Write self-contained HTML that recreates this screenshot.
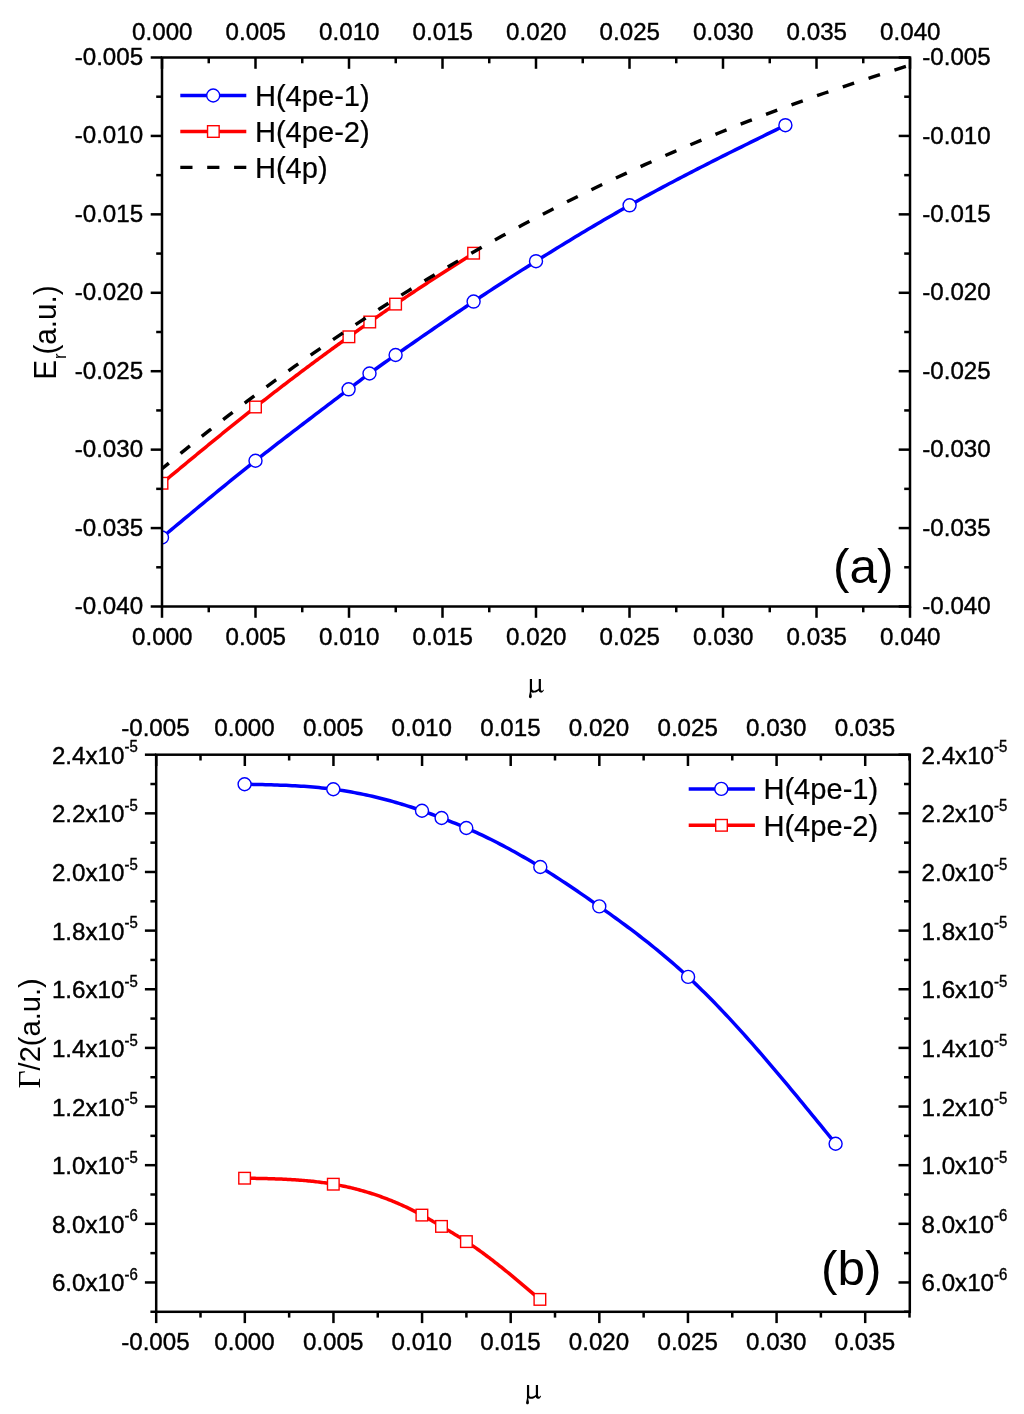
<!DOCTYPE html>
<html><head><meta charset="utf-8"><title>chart</title><style>html,body{margin:0;padding:0;background:#fff}body{width:1024px;height:1414px;overflow:hidden;font-family:"Liberation Sans",sans-serif}</style></head><body>
<svg width="1024" height="1414" viewBox="0 0 1024 1414" style="display:block;will-change:transform">
<rect width="1024" height="1414" fill="#fff"/>
<defs><clipPath id="ca"><rect x="162" y="57.5" width="748" height="549"/></clipPath><clipPath id="cb"><rect x="156.2" y="754.7" width="753.6" height="557.1"/></clipPath></defs>
<g clip-path="url(#ca)">
<path d="M162.00,537.50 L165.13,534.88 L168.27,532.26 L171.40,529.65 L174.53,527.03 L177.66,524.42 L180.80,521.80 L183.93,519.19 L187.06,516.58 L190.19,513.98 L193.33,511.37 L196.46,508.77 L199.59,506.18 L202.72,503.58 L205.86,500.99 L208.99,498.41 L212.12,495.83 L215.26,493.25 L218.39,490.68 L221.52,488.12 L224.65,485.56 L227.79,483.01 L230.92,480.46 L234.05,477.92 L237.18,475.39 L240.32,472.87 L243.45,470.35 L246.58,467.84 L249.71,465.34 L252.85,462.85 L255.98,460.37 L259.11,457.90 L262.25,455.43 L265.38,452.98 L268.51,450.53 L271.64,448.09 L274.78,445.66 L277.91,443.23 L281.04,440.81 L284.17,438.40 L287.31,435.99 L290.44,433.58 L293.57,431.18 L296.70,428.79 L299.84,426.40 L302.97,424.01 L306.10,421.62 L309.24,419.24 L312.37,416.86 L315.50,414.48 L318.63,412.10 L321.77,409.72 L324.90,407.34 L328.03,404.96 L331.16,402.58 L334.30,400.20 L337.43,397.82 L340.56,395.43 L343.69,393.04 L346.83,390.65 L349.96,388.26 L353.09,385.87 L356.23,383.47 L359.36,381.09 L362.49,378.72 L365.62,376.37 L368.76,374.05 L371.89,371.75 L375.02,369.48 L378.15,367.24 L381.29,365.01 L384.42,362.80 L387.55,360.61 L390.68,358.42 L393.82,356.24 L396.95,354.06 L400.08,351.88 L403.22,349.71 L406.35,347.53 L409.48,345.36 L412.61,343.19 L415.75,341.01 L418.88,338.85 L422.01,336.68 L425.14,334.51 L428.28,332.35 L431.41,330.19 L434.54,328.04 L437.67,325.89 L440.81,323.74 L443.94,321.60 L447.07,319.46 L450.21,317.32 L453.34,315.19 L456.47,313.07 L459.60,310.95 L462.74,308.83 L465.87,306.73 L469.00,304.62 L472.13,302.53 L475.27,300.44 L478.40,298.36 L481.53,296.28 L484.66,294.21 L487.80,292.15 L490.93,290.10 L494.06,288.05 L497.19,286.01 L500.33,283.97 L503.46,281.94 L506.59,279.92 L509.73,277.90 L512.86,275.89 L515.99,273.88 L519.12,271.88 L522.26,269.89 L525.39,267.90 L528.52,265.91 L531.65,263.93 L534.79,261.96 L537.92,260.00 L541.05,258.03 L544.18,256.08 L547.32,254.13 L550.45,252.18 L553.58,250.24 L556.72,248.31 L559.85,246.38 L562.98,244.46 L566.11,242.55 L569.25,240.64 L572.38,238.74 L575.51,236.84 L578.64,234.96 L581.78,233.07 L584.91,231.20 L588.04,229.33 L591.17,227.47 L594.31,225.62 L597.44,223.78 L600.57,221.94 L603.71,220.11 L606.84,218.29 L609.97,216.48 L613.10,214.67 L616.24,212.87 L619.37,211.08 L622.50,209.30 L625.63,207.53 L628.77,205.77 L631.90,204.01 L635.03,202.27 L638.16,200.53 L641.30,198.80 L644.43,197.08 L647.56,195.37 L650.70,193.66 L653.83,191.96 L656.96,190.27 L660.09,188.59 L663.23,186.92 L666.36,185.25 L669.49,183.58 L672.62,181.93 L675.76,180.28 L678.89,178.64 L682.02,177.00 L685.15,175.37 L688.29,173.74 L691.42,172.12 L694.55,170.51 L697.69,168.90 L700.82,167.29 L703.95,165.69 L707.08,164.10 L710.22,162.51 L713.35,160.92 L716.48,159.34 L719.61,157.76 L722.75,156.19 L725.88,154.62 L729.01,153.05 L732.14,151.48 L735.28,149.92 L738.41,148.36 L741.54,146.81 L744.68,145.25 L747.81,143.70 L750.94,142.15 L754.07,140.60 L757.21,139.06 L760.34,137.52 L763.47,135.97 L766.60,134.43 L769.74,132.89 L772.87,131.35 L776.00,129.81 L779.13,128.28 L782.27,126.74 L785.40,125.20" fill="none" stroke="#0000ff" stroke-width="3.5"/>
<circle cx="162.00" cy="537.50" r="6.5" fill="#fff" stroke="#0000ff" stroke-width="1.4"/>
<circle cx="255.50" cy="460.75" r="6.5" fill="#fff" stroke="#0000ff" stroke-width="1.4"/>
<circle cx="348.60" cy="389.30" r="6.5" fill="#fff" stroke="#0000ff" stroke-width="1.4"/>
<circle cx="369.50" cy="373.50" r="6.5" fill="#fff" stroke="#0000ff" stroke-width="1.4"/>
<circle cx="395.60" cy="355.00" r="6.5" fill="#fff" stroke="#0000ff" stroke-width="1.4"/>
<circle cx="473.60" cy="301.55" r="6.5" fill="#fff" stroke="#0000ff" stroke-width="1.4"/>
<circle cx="536.00" cy="261.20" r="6.5" fill="#fff" stroke="#0000ff" stroke-width="1.4"/>
<circle cx="629.60" cy="205.30" r="6.5" fill="#fff" stroke="#0000ff" stroke-width="1.4"/>
<circle cx="785.40" cy="125.20" r="6.5" fill="#fff" stroke="#0000ff" stroke-width="1.4"/>
<path d="M162.00,483.25 L163.57,481.95 L165.13,480.65 L166.70,479.36 L168.26,478.06 L169.83,476.76 L171.39,475.46 L172.96,474.17 L174.53,472.87 L176.09,471.57 L177.66,470.28 L179.22,468.98 L180.79,467.69 L182.36,466.39 L183.92,465.10 L185.49,463.80 L187.05,462.51 L188.62,461.22 L190.18,459.92 L191.75,458.63 L193.32,457.34 L194.88,456.05 L196.45,454.76 L198.01,453.47 L199.58,452.18 L201.15,450.90 L202.71,449.61 L204.28,448.32 L205.84,447.04 L207.41,445.76 L208.97,444.47 L210.54,443.19 L212.11,441.91 L213.67,440.63 L215.24,439.35 L216.80,438.08 L218.37,436.80 L219.94,435.53 L221.50,434.25 L223.07,432.98 L224.63,431.71 L226.20,430.44 L227.76,429.18 L229.33,427.91 L230.90,426.65 L232.46,425.38 L234.03,424.12 L235.59,422.86 L237.16,421.60 L238.73,420.35 L240.29,419.09 L241.86,417.84 L243.42,416.59 L244.99,415.34 L246.55,414.09 L248.12,412.84 L249.69,411.60 L251.25,410.36 L252.82,409.12 L254.38,407.88 L255.95,406.65 L257.52,405.41 L259.08,404.18 L260.65,402.95 L262.21,401.72 L263.78,400.50 L265.34,399.27 L266.91,398.05 L268.48,396.83 L270.04,395.62 L271.61,394.40 L273.17,393.19 L274.74,391.98 L276.31,390.77 L277.87,389.56 L279.44,388.36 L281.00,387.15 L282.57,385.95 L284.13,384.75 L285.70,383.56 L287.27,382.36 L288.83,381.17 L290.40,379.98 L291.96,378.79 L293.53,377.60 L295.10,376.41 L296.66,375.23 L298.23,374.05 L299.79,372.87 L301.36,371.69 L302.92,370.52 L304.49,369.34 L306.06,368.17 L307.62,367.00 L309.19,365.83 L310.75,364.66 L312.32,363.50 L313.89,362.34 L315.45,361.18 L317.02,360.02 L318.58,358.86 L320.15,357.70 L321.71,356.55 L323.28,355.40 L324.85,354.25 L326.41,353.10 L327.98,351.95 L329.54,350.81 L331.11,349.66 L332.68,348.52 L334.24,347.38 L335.81,346.25 L337.37,345.11 L338.94,343.98 L340.50,342.84 L342.07,341.71 L343.64,340.58 L345.20,339.46 L346.77,338.33 L348.33,337.21 L349.90,336.08 L351.47,334.96 L353.03,333.84 L354.60,332.73 L356.16,331.61 L357.73,330.50 L359.29,329.38 L360.86,328.27 L362.43,327.17 L363.99,326.06 L365.56,324.95 L367.12,323.85 L368.69,322.75 L370.26,321.64 L371.82,320.55 L373.39,319.45 L374.95,318.35 L376.52,317.26 L378.08,316.17 L379.65,315.08 L381.22,313.99 L382.78,312.90 L384.35,311.82 L385.91,310.74 L387.48,309.66 L389.05,308.58 L390.61,307.51 L392.18,306.44 L393.74,305.37 L395.31,304.30 L396.87,303.23 L398.44,302.17 L400.01,301.11 L401.57,300.06 L403.14,299.00 L404.70,297.95 L406.27,296.90 L407.84,295.85 L409.40,294.81 L410.97,293.76 L412.53,292.72 L414.10,291.68 L415.66,290.65 L417.23,289.61 L418.80,288.58 L420.36,287.55 L421.93,286.52 L423.49,285.49 L425.06,284.46 L426.63,283.44 L428.19,282.41 L429.76,281.39 L431.32,280.37 L432.89,279.36 L434.45,278.34 L436.02,277.32 L437.59,276.31 L439.15,275.29 L440.72,274.28 L442.28,273.27 L443.85,272.26 L445.42,271.25 L446.98,270.24 L448.55,269.24 L450.11,268.23 L451.68,267.22 L453.24,266.22 L454.81,265.22 L456.38,264.21 L457.94,263.21 L459.51,262.21 L461.07,261.20 L462.64,260.20 L464.21,259.20 L465.77,258.20 L467.34,257.20 L468.90,256.20 L470.47,255.20 L472.03,254.20 L473.60,253.20" fill="none" stroke="#ff0000" stroke-width="3.5"/>
<rect x="156.20" y="477.45" width="11.6" height="11.6" fill="#fff" stroke="#ff0000" stroke-width="1.4"/>
<rect x="249.70" y="401.20" width="11.6" height="11.6" fill="#fff" stroke="#ff0000" stroke-width="1.4"/>
<rect x="343.10" y="331.00" width="11.6" height="11.6" fill="#fff" stroke="#ff0000" stroke-width="1.4"/>
<rect x="363.95" y="316.20" width="11.6" height="11.6" fill="#fff" stroke="#ff0000" stroke-width="1.4"/>
<rect x="389.80" y="298.30" width="11.6" height="11.6" fill="#fff" stroke="#ff0000" stroke-width="1.4"/>
<rect x="467.80" y="247.40" width="11.6" height="11.6" fill="#fff" stroke="#ff0000" stroke-width="1.4"/>
<path d="M162.00,468.77 L171.47,460.93 L180.94,453.18 L190.41,445.51 L199.87,437.93 L209.34,430.42 L218.81,423.00 L228.28,415.66 L237.75,408.40 L247.22,401.22 L256.68,394.12 L266.15,387.09 L275.62,380.15 L285.09,373.28 L294.56,366.49 L304.03,359.78 L313.49,353.14 L322.96,346.58 L332.43,340.09 L341.90,333.68 L351.37,327.34 L360.84,321.08 L370.30,314.89 L379.77,308.77 L389.24,302.72 L398.71,296.75 L408.18,290.84 L417.65,285.01 L427.11,279.24 L436.58,273.55 L446.05,267.92 L455.52,262.36 L464.99,256.87 L474.46,251.45 L483.92,246.09 L493.39,240.80 L502.86,235.57 L512.33,230.41 L521.80,225.31 L531.27,220.28 L540.73,215.31 L550.20,210.40 L559.67,205.56 L569.14,200.78 L578.61,196.05 L588.08,191.39 L597.54,186.79 L607.01,182.25 L616.48,177.77 L625.95,173.35 L635.42,168.98 L644.89,164.67 L654.35,160.42 L663.82,156.23 L673.29,152.09 L682.76,148.00 L692.23,143.97 L701.70,140.00 L711.16,136.08 L720.63,132.21 L730.10,128.39 L739.57,124.63 L749.04,120.92 L758.51,117.26 L767.97,113.65 L777.44,110.09 L786.91,106.58 L796.38,103.12 L805.85,99.70 L815.32,96.34 L824.78,93.02 L834.25,89.75 L843.72,86.53 L853.19,83.35 L862.66,80.21 L872.13,77.12 L881.59,74.08 L891.06,71.08 L900.53,68.12 L910.00,65.20" fill="none" stroke="#000" stroke-width="3.4" stroke-dasharray="12.0 15.18" stroke-dashoffset="3.1"/>
</g>
<line x1="162.00" y1="57.5" x2="162.00" y2="68.8" stroke="#000" stroke-width="2.5"/>
<line x1="162.00" y1="606.5" x2="162.00" y2="617.8" stroke="#000" stroke-width="2.5"/>
<line x1="255.50" y1="57.5" x2="255.50" y2="68.8" stroke="#000" stroke-width="2.5"/>
<line x1="255.50" y1="606.5" x2="255.50" y2="617.8" stroke="#000" stroke-width="2.5"/>
<line x1="349.00" y1="57.5" x2="349.00" y2="68.8" stroke="#000" stroke-width="2.5"/>
<line x1="349.00" y1="606.5" x2="349.00" y2="617.8" stroke="#000" stroke-width="2.5"/>
<line x1="442.50" y1="57.5" x2="442.50" y2="68.8" stroke="#000" stroke-width="2.5"/>
<line x1="442.50" y1="606.5" x2="442.50" y2="617.8" stroke="#000" stroke-width="2.5"/>
<line x1="536.00" y1="57.5" x2="536.00" y2="68.8" stroke="#000" stroke-width="2.5"/>
<line x1="536.00" y1="606.5" x2="536.00" y2="617.8" stroke="#000" stroke-width="2.5"/>
<line x1="629.50" y1="57.5" x2="629.50" y2="68.8" stroke="#000" stroke-width="2.5"/>
<line x1="629.50" y1="606.5" x2="629.50" y2="617.8" stroke="#000" stroke-width="2.5"/>
<line x1="723.00" y1="57.5" x2="723.00" y2="68.8" stroke="#000" stroke-width="2.5"/>
<line x1="723.00" y1="606.5" x2="723.00" y2="617.8" stroke="#000" stroke-width="2.5"/>
<line x1="816.50" y1="57.5" x2="816.50" y2="68.8" stroke="#000" stroke-width="2.5"/>
<line x1="816.50" y1="606.5" x2="816.50" y2="617.8" stroke="#000" stroke-width="2.5"/>
<line x1="910.00" y1="57.5" x2="910.00" y2="68.8" stroke="#000" stroke-width="2.5"/>
<line x1="910.00" y1="606.5" x2="910.00" y2="617.8" stroke="#000" stroke-width="2.5"/>
<line x1="208.75" y1="57.5" x2="208.75" y2="63.3" stroke="#000" stroke-width="2.5"/>
<line x1="208.75" y1="606.5" x2="208.75" y2="612.3" stroke="#000" stroke-width="2.5"/>
<line x1="302.25" y1="57.5" x2="302.25" y2="63.3" stroke="#000" stroke-width="2.5"/>
<line x1="302.25" y1="606.5" x2="302.25" y2="612.3" stroke="#000" stroke-width="2.5"/>
<line x1="395.75" y1="57.5" x2="395.75" y2="63.3" stroke="#000" stroke-width="2.5"/>
<line x1="395.75" y1="606.5" x2="395.75" y2="612.3" stroke="#000" stroke-width="2.5"/>
<line x1="489.25" y1="57.5" x2="489.25" y2="63.3" stroke="#000" stroke-width="2.5"/>
<line x1="489.25" y1="606.5" x2="489.25" y2="612.3" stroke="#000" stroke-width="2.5"/>
<line x1="582.75" y1="57.5" x2="582.75" y2="63.3" stroke="#000" stroke-width="2.5"/>
<line x1="582.75" y1="606.5" x2="582.75" y2="612.3" stroke="#000" stroke-width="2.5"/>
<line x1="676.25" y1="57.5" x2="676.25" y2="63.3" stroke="#000" stroke-width="2.5"/>
<line x1="676.25" y1="606.5" x2="676.25" y2="612.3" stroke="#000" stroke-width="2.5"/>
<line x1="769.75" y1="57.5" x2="769.75" y2="63.3" stroke="#000" stroke-width="2.5"/>
<line x1="769.75" y1="606.5" x2="769.75" y2="612.3" stroke="#000" stroke-width="2.5"/>
<line x1="863.25" y1="57.5" x2="863.25" y2="63.3" stroke="#000" stroke-width="2.5"/>
<line x1="863.25" y1="606.5" x2="863.25" y2="612.3" stroke="#000" stroke-width="2.5"/>
<line x1="150.7" y1="57.50" x2="162.0" y2="57.50" stroke="#000" stroke-width="2.5"/>
<line x1="898.7" y1="57.50" x2="910.0" y2="57.50" stroke="#000" stroke-width="2.5"/>
<line x1="150.7" y1="135.93" x2="162.0" y2="135.93" stroke="#000" stroke-width="2.5"/>
<line x1="898.7" y1="135.93" x2="910.0" y2="135.93" stroke="#000" stroke-width="2.5"/>
<line x1="150.7" y1="214.36" x2="162.0" y2="214.36" stroke="#000" stroke-width="2.5"/>
<line x1="898.7" y1="214.36" x2="910.0" y2="214.36" stroke="#000" stroke-width="2.5"/>
<line x1="150.7" y1="292.79" x2="162.0" y2="292.79" stroke="#000" stroke-width="2.5"/>
<line x1="898.7" y1="292.79" x2="910.0" y2="292.79" stroke="#000" stroke-width="2.5"/>
<line x1="150.7" y1="371.21" x2="162.0" y2="371.21" stroke="#000" stroke-width="2.5"/>
<line x1="898.7" y1="371.21" x2="910.0" y2="371.21" stroke="#000" stroke-width="2.5"/>
<line x1="150.7" y1="449.64" x2="162.0" y2="449.64" stroke="#000" stroke-width="2.5"/>
<line x1="898.7" y1="449.64" x2="910.0" y2="449.64" stroke="#000" stroke-width="2.5"/>
<line x1="150.7" y1="528.07" x2="162.0" y2="528.07" stroke="#000" stroke-width="2.5"/>
<line x1="898.7" y1="528.07" x2="910.0" y2="528.07" stroke="#000" stroke-width="2.5"/>
<line x1="150.7" y1="606.50" x2="162.0" y2="606.50" stroke="#000" stroke-width="2.5"/>
<line x1="898.7" y1="606.50" x2="910.0" y2="606.50" stroke="#000" stroke-width="2.5"/>
<line x1="156.2" y1="96.71" x2="162.0" y2="96.71" stroke="#000" stroke-width="2.5"/>
<line x1="904.2" y1="96.71" x2="910.0" y2="96.71" stroke="#000" stroke-width="2.5"/>
<line x1="156.2" y1="175.14" x2="162.0" y2="175.14" stroke="#000" stroke-width="2.5"/>
<line x1="904.2" y1="175.14" x2="910.0" y2="175.14" stroke="#000" stroke-width="2.5"/>
<line x1="156.2" y1="253.57" x2="162.0" y2="253.57" stroke="#000" stroke-width="2.5"/>
<line x1="904.2" y1="253.57" x2="910.0" y2="253.57" stroke="#000" stroke-width="2.5"/>
<line x1="156.2" y1="332.00" x2="162.0" y2="332.00" stroke="#000" stroke-width="2.5"/>
<line x1="904.2" y1="332.00" x2="910.0" y2="332.00" stroke="#000" stroke-width="2.5"/>
<line x1="156.2" y1="410.43" x2="162.0" y2="410.43" stroke="#000" stroke-width="2.5"/>
<line x1="904.2" y1="410.43" x2="910.0" y2="410.43" stroke="#000" stroke-width="2.5"/>
<line x1="156.2" y1="488.86" x2="162.0" y2="488.86" stroke="#000" stroke-width="2.5"/>
<line x1="904.2" y1="488.86" x2="910.0" y2="488.86" stroke="#000" stroke-width="2.5"/>
<line x1="156.2" y1="567.29" x2="162.0" y2="567.29" stroke="#000" stroke-width="2.5"/>
<line x1="904.2" y1="567.29" x2="910.0" y2="567.29" stroke="#000" stroke-width="2.5"/>
<rect x="162.0" y="57.5" width="748.0" height="549.0" fill="none" stroke="#000" stroke-width="2.5"/>
<text transform="translate(162.30,40.00) scale(1.027,1)" font-family="Liberation Sans" font-size="23.5" text-anchor="middle" stroke="#000" stroke-width="0.4">0.000</text>
<text transform="translate(162.30,644.70) scale(1.027,1)" font-family="Liberation Sans" font-size="23.5" text-anchor="middle" stroke="#000" stroke-width="0.4">0.000</text>
<text transform="translate(255.80,40.00) scale(1.027,1)" font-family="Liberation Sans" font-size="23.5" text-anchor="middle" stroke="#000" stroke-width="0.4">0.005</text>
<text transform="translate(255.80,644.70) scale(1.027,1)" font-family="Liberation Sans" font-size="23.5" text-anchor="middle" stroke="#000" stroke-width="0.4">0.005</text>
<text transform="translate(349.30,40.00) scale(1.027,1)" font-family="Liberation Sans" font-size="23.5" text-anchor="middle" stroke="#000" stroke-width="0.4">0.010</text>
<text transform="translate(349.30,644.70) scale(1.027,1)" font-family="Liberation Sans" font-size="23.5" text-anchor="middle" stroke="#000" stroke-width="0.4">0.010</text>
<text transform="translate(442.80,40.00) scale(1.027,1)" font-family="Liberation Sans" font-size="23.5" text-anchor="middle" stroke="#000" stroke-width="0.4">0.015</text>
<text transform="translate(442.80,644.70) scale(1.027,1)" font-family="Liberation Sans" font-size="23.5" text-anchor="middle" stroke="#000" stroke-width="0.4">0.015</text>
<text transform="translate(536.30,40.00) scale(1.027,1)" font-family="Liberation Sans" font-size="23.5" text-anchor="middle" stroke="#000" stroke-width="0.4">0.020</text>
<text transform="translate(536.30,644.70) scale(1.027,1)" font-family="Liberation Sans" font-size="23.5" text-anchor="middle" stroke="#000" stroke-width="0.4">0.020</text>
<text transform="translate(629.80,40.00) scale(1.027,1)" font-family="Liberation Sans" font-size="23.5" text-anchor="middle" stroke="#000" stroke-width="0.4">0.025</text>
<text transform="translate(629.80,644.70) scale(1.027,1)" font-family="Liberation Sans" font-size="23.5" text-anchor="middle" stroke="#000" stroke-width="0.4">0.025</text>
<text transform="translate(723.30,40.00) scale(1.027,1)" font-family="Liberation Sans" font-size="23.5" text-anchor="middle" stroke="#000" stroke-width="0.4">0.030</text>
<text transform="translate(723.30,644.70) scale(1.027,1)" font-family="Liberation Sans" font-size="23.5" text-anchor="middle" stroke="#000" stroke-width="0.4">0.030</text>
<text transform="translate(816.80,40.00) scale(1.027,1)" font-family="Liberation Sans" font-size="23.5" text-anchor="middle" stroke="#000" stroke-width="0.4">0.035</text>
<text transform="translate(816.80,644.70) scale(1.027,1)" font-family="Liberation Sans" font-size="23.5" text-anchor="middle" stroke="#000" stroke-width="0.4">0.035</text>
<text transform="translate(910.30,40.00) scale(1.027,1)" font-family="Liberation Sans" font-size="23.5" text-anchor="middle" stroke="#000" stroke-width="0.4">0.040</text>
<text transform="translate(910.30,644.70) scale(1.027,1)" font-family="Liberation Sans" font-size="23.5" text-anchor="middle" stroke="#000" stroke-width="0.4">0.040</text>
<text transform="translate(143.10,65.00) scale(1.027,1)" font-family="Liberation Sans" font-size="23.5" text-anchor="end" stroke="#000" stroke-width="0.4">-0.005</text>
<text transform="translate(922.30,65.10) scale(1.027,1)" font-family="Liberation Sans" font-size="23.5" text-anchor="start" stroke="#000" stroke-width="0.4">-0.005</text>
<text transform="translate(143.10,143.43) scale(1.027,1)" font-family="Liberation Sans" font-size="23.5" text-anchor="end" stroke="#000" stroke-width="0.4">-0.010</text>
<text transform="translate(922.30,143.53) scale(1.027,1)" font-family="Liberation Sans" font-size="23.5" text-anchor="start" stroke="#000" stroke-width="0.4">-0.010</text>
<text transform="translate(143.10,221.86) scale(1.027,1)" font-family="Liberation Sans" font-size="23.5" text-anchor="end" stroke="#000" stroke-width="0.4">-0.015</text>
<text transform="translate(922.30,221.96) scale(1.027,1)" font-family="Liberation Sans" font-size="23.5" text-anchor="start" stroke="#000" stroke-width="0.4">-0.015</text>
<text transform="translate(143.10,300.29) scale(1.027,1)" font-family="Liberation Sans" font-size="23.5" text-anchor="end" stroke="#000" stroke-width="0.4">-0.020</text>
<text transform="translate(922.30,300.39) scale(1.027,1)" font-family="Liberation Sans" font-size="23.5" text-anchor="start" stroke="#000" stroke-width="0.4">-0.020</text>
<text transform="translate(143.10,378.71) scale(1.027,1)" font-family="Liberation Sans" font-size="23.5" text-anchor="end" stroke="#000" stroke-width="0.4">-0.025</text>
<text transform="translate(922.30,378.81) scale(1.027,1)" font-family="Liberation Sans" font-size="23.5" text-anchor="start" stroke="#000" stroke-width="0.4">-0.025</text>
<text transform="translate(143.10,457.14) scale(1.027,1)" font-family="Liberation Sans" font-size="23.5" text-anchor="end" stroke="#000" stroke-width="0.4">-0.030</text>
<text transform="translate(922.30,457.24) scale(1.027,1)" font-family="Liberation Sans" font-size="23.5" text-anchor="start" stroke="#000" stroke-width="0.4">-0.030</text>
<text transform="translate(143.10,535.57) scale(1.027,1)" font-family="Liberation Sans" font-size="23.5" text-anchor="end" stroke="#000" stroke-width="0.4">-0.035</text>
<text transform="translate(922.30,535.67) scale(1.027,1)" font-family="Liberation Sans" font-size="23.5" text-anchor="start" stroke="#000" stroke-width="0.4">-0.035</text>
<text transform="translate(143.10,614.00) scale(1.027,1)" font-family="Liberation Sans" font-size="23.5" text-anchor="end" stroke="#000" stroke-width="0.4">-0.040</text>
<text transform="translate(922.30,614.10) scale(1.027,1)" font-family="Liberation Sans" font-size="23.5" text-anchor="start" stroke="#000" stroke-width="0.4">-0.040</text>
<line x1="180.3" y1="95.5" x2="246.3" y2="95.5" stroke="#0000ff" stroke-width="3.5"/>
<line x1="180.3" y1="131.5" x2="246.3" y2="131.5" stroke="#ff0000" stroke-width="3.5"/>
<circle cx="213.20" cy="95.50" r="6.5" fill="#fff" stroke="#0000ff" stroke-width="1.4"/>
<rect x="207.55" y="125.70" width="11.6" height="11.6" fill="#fff" stroke="#ff0000" stroke-width="1.4"/>
<line x1="180.3" y1="167.4" x2="246.3" y2="167.4" stroke="#000" stroke-width="3.4" stroke-dasharray="12.2 14.7"/>
<text transform="translate(254.90,105.60) scale(0.982,1)" font-family="Liberation Sans" font-size="29.66" text-anchor="start" stroke="#000" stroke-width="0.2">H(4pe-1)</text>
<text transform="translate(254.90,141.50) scale(0.982,1)" font-family="Liberation Sans" font-size="29.66" text-anchor="start" stroke="#000" stroke-width="0.2">H(4pe-2)</text>
<text transform="translate(254.90,177.60) scale(0.982,1)" font-family="Liberation Sans" font-size="29.66" text-anchor="start" stroke="#000" stroke-width="0.2">H(4p)</text>
<text transform="translate(863.20,582.90) scale(1.03,1)" font-family="Liberation Sans" font-size="48" text-anchor="middle" >(a)</text>
<text transform="translate(55.5,332.5) scale(1.045,1) rotate(-90)" font-family="Liberation Sans" font-size="29.66" text-anchor="middle">E<tspan font-size="17" dy="10.2" dx="0.8">r</tspan><tspan dy="-10.2" dx="-1.1">(a.u.)</tspan></text>
<path transform="translate(529.84,678.95) scale(0.03418) translate(-288,-262)" d="M288,262 L352,262 L352,545 C352,590 385,612 430,605 C480,598 520,575 548,545 L548,262 L612,262 L612,560 C612,600 640,612 662,598 C675,590 685,578 692,568 L702,588 C682,640 640,668 605,662 C570,656 550,630 546,600 C520,630 470,660 410,662 C370,664 340,655 327,642 L331,690 C341,730 349,760 346,785 C341,815 320,828 302,826 C275,824 258,800 262,770 C268,730 285,680 288,640 Z" fill="#000"/>
<g clip-path="url(#cb)">
<path d="M244.60,784.25 L247.57,784.31 L250.54,784.36 L253.51,784.42 L256.48,784.48 L259.45,784.54 L262.42,784.61 L265.39,784.68 L268.36,784.76 L271.33,784.84 L274.30,784.93 L277.27,785.03 L280.24,785.13 L283.21,785.25 L286.18,785.37 L289.15,785.51 L292.12,785.65 L295.09,785.81 L298.06,785.98 L301.03,786.17 L304.00,786.36 L306.97,786.58 L309.94,786.81 L312.91,787.05 L315.88,787.32 L318.85,787.60 L321.82,787.90 L324.79,788.22 L327.76,788.56 L330.73,788.92 L333.70,789.30 L336.67,789.71 L339.64,790.14 L342.61,790.59 L345.57,791.06 L348.54,791.55 L351.51,792.07 L354.48,792.61 L357.45,793.17 L360.42,793.75 L363.39,794.36 L366.36,794.99 L369.33,795.64 L372.30,796.31 L375.27,797.00 L378.24,797.72 L381.21,798.45 L384.18,799.21 L387.15,799.99 L390.12,800.79 L393.09,801.62 L396.06,802.46 L399.03,803.33 L402.00,804.22 L404.97,805.13 L407.94,806.06 L410.91,807.01 L413.88,807.98 L416.85,808.98 L419.82,809.99 L422.79,811.03 L425.76,812.09 L428.73,813.16 L431.70,814.25 L434.67,815.36 L437.64,816.49 L440.61,817.62 L443.58,818.76 L446.55,819.92 L449.52,821.09 L452.49,822.27 L455.46,823.46 L458.43,824.68 L461.40,825.91 L464.37,827.17 L467.34,828.45 L470.31,829.75 L473.28,831.08 L476.25,832.43 L479.22,833.81 L482.19,835.20 L485.16,836.63 L488.13,838.07 L491.10,839.54 L494.07,841.03 L497.04,842.54 L500.01,844.07 L502.98,845.63 L505.95,847.21 L508.92,848.81 L511.89,850.43 L514.86,852.07 L517.83,853.74 L520.80,855.42 L523.77,857.13 L526.74,858.86 L529.71,860.60 L532.68,862.37 L535.65,864.16 L538.62,865.97 L541.58,867.79 L544.55,869.64 L547.52,871.50 L550.49,873.39 L553.46,875.29 L556.43,877.20 L559.40,879.14 L562.37,881.09 L565.34,883.05 L568.31,885.03 L571.28,887.02 L574.25,889.03 L577.22,891.05 L580.19,893.08 L583.16,895.12 L586.13,897.18 L589.10,899.24 L592.07,901.32 L595.04,903.40 L598.01,905.49 L600.98,907.59 L603.95,909.70 L606.92,911.82 L609.89,913.94 L612.86,916.08 L615.83,918.23 L618.80,920.40 L621.77,922.58 L624.74,924.77 L627.71,926.98 L630.68,929.20 L633.65,931.45 L636.62,933.71 L639.59,935.99 L642.56,938.30 L645.53,940.62 L648.50,942.97 L651.47,945.34 L654.44,947.74 L657.41,950.16 L660.38,952.60 L663.35,955.08 L666.32,957.58 L669.29,960.12 L672.26,962.68 L675.23,965.27 L678.20,967.90 L681.17,970.56 L684.14,973.25 L687.11,975.98 L690.08,978.74 L693.05,981.54 L696.02,984.38 L698.99,987.25 L701.96,990.15 L704.93,993.09 L707.90,996.06 L710.87,999.06 L713.84,1002.09 L716.81,1005.15 L719.78,1008.24 L722.75,1011.36 L725.72,1014.50 L728.69,1017.68 L731.66,1020.87 L734.63,1024.10 L737.59,1027.35 L740.56,1030.62 L743.53,1033.92 L746.50,1037.24 L749.47,1040.58 L752.44,1043.95 L755.41,1047.33 L758.38,1050.73 L761.35,1054.15 L764.32,1057.59 L767.29,1061.05 L770.26,1064.53 L773.23,1068.02 L776.20,1071.53 L779.17,1075.05 L782.14,1078.58 L785.11,1082.13 L788.08,1085.69 L791.05,1089.26 L794.02,1092.84 L796.99,1096.44 L799.96,1100.04 L802.93,1103.65 L805.90,1107.27 L808.87,1110.90 L811.84,1114.53 L814.81,1118.17 L817.78,1121.82 L820.75,1125.47 L823.72,1129.12 L826.69,1132.77 L829.66,1136.43 L832.63,1140.09 L835.60,1143.75" fill="none" stroke="#0000ff" stroke-width="3.5"/>
<circle cx="244.60" cy="784.25" r="6.5" fill="#fff" stroke="#0000ff" stroke-width="1.4"/>
<circle cx="333.30" cy="789.25" r="6.5" fill="#fff" stroke="#0000ff" stroke-width="1.4"/>
<circle cx="422.00" cy="810.75" r="6.5" fill="#fff" stroke="#0000ff" stroke-width="1.4"/>
<circle cx="441.60" cy="818.00" r="6.5" fill="#fff" stroke="#0000ff" stroke-width="1.4"/>
<circle cx="466.30" cy="828.00" r="6.5" fill="#fff" stroke="#0000ff" stroke-width="1.4"/>
<circle cx="540.30" cy="867.00" r="6.5" fill="#fff" stroke="#0000ff" stroke-width="1.4"/>
<circle cx="599.30" cy="906.40" r="6.5" fill="#fff" stroke="#0000ff" stroke-width="1.4"/>
<circle cx="688.10" cy="976.90" r="6.5" fill="#fff" stroke="#0000ff" stroke-width="1.4"/>
<circle cx="835.60" cy="1143.75" r="6.5" fill="#fff" stroke="#0000ff" stroke-width="1.4"/>
<path d="M244.60,1178.20 L246.08,1178.22 L247.57,1178.25 L249.05,1178.27 L250.54,1178.29 L252.02,1178.32 L253.50,1178.34 L254.99,1178.37 L256.47,1178.39 L257.96,1178.42 L259.44,1178.45 L260.92,1178.48 L262.41,1178.51 L263.89,1178.54 L265.37,1178.58 L266.86,1178.62 L268.34,1178.65 L269.83,1178.70 L271.31,1178.74 L272.79,1178.78 L274.28,1178.83 L275.76,1178.88 L277.25,1178.93 L278.73,1178.99 L280.21,1179.05 L281.70,1179.11 L283.18,1179.18 L284.67,1179.24 L286.15,1179.32 L287.63,1179.39 L289.12,1179.47 L290.60,1179.56 L292.09,1179.64 L293.57,1179.73 L295.05,1179.83 L296.54,1179.93 L298.02,1180.04 L299.51,1180.14 L300.99,1180.26 L302.47,1180.38 L303.96,1180.50 L305.44,1180.63 L306.92,1180.77 L308.41,1180.91 L309.89,1181.05 L311.38,1181.21 L312.86,1181.36 L314.34,1181.53 L315.83,1181.70 L317.31,1181.87 L318.80,1182.06 L320.28,1182.24 L321.76,1182.44 L323.25,1182.64 L324.73,1182.85 L326.22,1183.07 L327.70,1183.29 L329.18,1183.52 L330.67,1183.76 L332.15,1184.00 L333.64,1184.26 L335.12,1184.52 L336.60,1184.79 L338.09,1185.06 L339.57,1185.35 L341.05,1185.64 L342.54,1185.94 L344.02,1186.25 L345.51,1186.57 L346.99,1186.89 L348.47,1187.23 L349.96,1187.57 L351.44,1187.92 L352.93,1188.28 L354.41,1188.64 L355.89,1189.02 L357.38,1189.40 L358.86,1189.80 L360.35,1190.20 L361.83,1190.61 L363.31,1191.03 L364.80,1191.45 L366.28,1191.89 L367.77,1192.34 L369.25,1192.79 L370.73,1193.25 L372.22,1193.72 L373.70,1194.21 L375.18,1194.70 L376.67,1195.20 L378.15,1195.70 L379.64,1196.22 L381.12,1196.75 L382.60,1197.29 L384.09,1197.83 L385.57,1198.39 L387.06,1198.96 L388.54,1199.53 L390.02,1200.12 L391.51,1200.71 L392.99,1201.31 L394.48,1201.93 L395.96,1202.55 L397.44,1203.18 L398.93,1203.83 L400.41,1204.48 L401.90,1205.15 L403.38,1205.82 L404.86,1206.50 L406.35,1207.20 L407.83,1207.90 L409.32,1208.62 L410.80,1209.34 L412.28,1210.08 L413.77,1210.82 L415.25,1211.58 L416.73,1212.35 L418.22,1213.12 L419.70,1213.91 L421.19,1214.71 L422.67,1215.52 L424.15,1216.34 L425.64,1217.17 L427.12,1218.01 L428.61,1218.86 L430.09,1219.71 L431.57,1220.57 L433.06,1221.43 L434.54,1222.30 L436.03,1223.17 L437.51,1224.04 L438.99,1224.92 L440.48,1225.80 L441.96,1226.67 L443.45,1227.55 L444.93,1228.42 L446.41,1229.30 L447.90,1230.18 L449.38,1231.06 L450.86,1231.95 L452.35,1232.84 L453.83,1233.73 L455.32,1234.63 L456.80,1235.54 L458.28,1236.45 L459.77,1237.37 L461.25,1238.30 L462.74,1239.24 L464.22,1240.19 L465.70,1241.15 L467.19,1242.12 L468.67,1243.10 L470.16,1244.09 L471.64,1245.10 L473.12,1246.12 L474.61,1247.14 L476.09,1248.18 L477.58,1249.23 L479.06,1250.29 L480.54,1251.36 L482.03,1252.43 L483.51,1253.52 L484.99,1254.62 L486.48,1255.72 L487.96,1256.84 L489.45,1257.96 L490.93,1259.09 L492.41,1260.23 L493.90,1261.37 L495.38,1262.53 L496.87,1263.69 L498.35,1264.85 L499.83,1266.03 L501.32,1267.21 L502.80,1268.40 L504.29,1269.59 L505.77,1270.79 L507.25,1271.99 L508.74,1273.20 L510.22,1274.42 L511.71,1275.64 L513.19,1276.86 L514.67,1278.09 L516.16,1279.32 L517.64,1280.56 L519.13,1281.80 L520.61,1283.04 L522.09,1284.29 L523.58,1285.54 L525.06,1286.79 L526.54,1288.04 L528.03,1289.30 L529.51,1290.56 L531.00,1291.82 L532.48,1293.08 L533.96,1294.34 L535.45,1295.61 L536.93,1296.87 L538.42,1298.13 L539.90,1299.40" fill="none" stroke="#ff0000" stroke-width="3.5"/>
<rect x="238.80" y="1172.40" width="11.6" height="11.6" fill="#fff" stroke="#ff0000" stroke-width="1.4"/>
<rect x="327.50" y="1178.40" width="11.6" height="11.6" fill="#fff" stroke="#ff0000" stroke-width="1.4"/>
<rect x="416.10" y="1209.30" width="11.6" height="11.6" fill="#fff" stroke="#ff0000" stroke-width="1.4"/>
<rect x="435.70" y="1220.60" width="11.6" height="11.6" fill="#fff" stroke="#ff0000" stroke-width="1.4"/>
<rect x="460.60" y="1235.80" width="11.6" height="11.6" fill="#fff" stroke="#ff0000" stroke-width="1.4"/>
<rect x="534.10" y="1293.60" width="11.6" height="11.6" fill="#fff" stroke="#ff0000" stroke-width="1.4"/>
</g>
<line x1="156.20" y1="754.7" x2="156.20" y2="766.0" stroke="#000" stroke-width="2.5"/>
<line x1="156.20" y1="1311.8" x2="156.20" y2="1323.1" stroke="#000" stroke-width="2.5"/>
<line x1="244.82" y1="754.7" x2="244.82" y2="766.0" stroke="#000" stroke-width="2.5"/>
<line x1="244.82" y1="1311.8" x2="244.82" y2="1323.1" stroke="#000" stroke-width="2.5"/>
<line x1="333.45" y1="754.7" x2="333.45" y2="766.0" stroke="#000" stroke-width="2.5"/>
<line x1="333.45" y1="1311.8" x2="333.45" y2="1323.1" stroke="#000" stroke-width="2.5"/>
<line x1="422.07" y1="754.7" x2="422.07" y2="766.0" stroke="#000" stroke-width="2.5"/>
<line x1="422.07" y1="1311.8" x2="422.07" y2="1323.1" stroke="#000" stroke-width="2.5"/>
<line x1="510.70" y1="754.7" x2="510.70" y2="766.0" stroke="#000" stroke-width="2.5"/>
<line x1="510.70" y1="1311.8" x2="510.70" y2="1323.1" stroke="#000" stroke-width="2.5"/>
<line x1="599.33" y1="754.7" x2="599.33" y2="766.0" stroke="#000" stroke-width="2.5"/>
<line x1="599.33" y1="1311.8" x2="599.33" y2="1323.1" stroke="#000" stroke-width="2.5"/>
<line x1="687.95" y1="754.7" x2="687.95" y2="766.0" stroke="#000" stroke-width="2.5"/>
<line x1="687.95" y1="1311.8" x2="687.95" y2="1323.1" stroke="#000" stroke-width="2.5"/>
<line x1="776.58" y1="754.7" x2="776.58" y2="766.0" stroke="#000" stroke-width="2.5"/>
<line x1="776.58" y1="1311.8" x2="776.58" y2="1323.1" stroke="#000" stroke-width="2.5"/>
<line x1="865.20" y1="754.7" x2="865.20" y2="766.0" stroke="#000" stroke-width="2.5"/>
<line x1="865.20" y1="1311.8" x2="865.20" y2="1323.1" stroke="#000" stroke-width="2.5"/>
<line x1="200.51" y1="754.7" x2="200.51" y2="760.5" stroke="#000" stroke-width="2.5"/>
<line x1="200.51" y1="1311.8" x2="200.51" y2="1317.6" stroke="#000" stroke-width="2.5"/>
<line x1="289.14" y1="754.7" x2="289.14" y2="760.5" stroke="#000" stroke-width="2.5"/>
<line x1="289.14" y1="1311.8" x2="289.14" y2="1317.6" stroke="#000" stroke-width="2.5"/>
<line x1="377.76" y1="754.7" x2="377.76" y2="760.5" stroke="#000" stroke-width="2.5"/>
<line x1="377.76" y1="1311.8" x2="377.76" y2="1317.6" stroke="#000" stroke-width="2.5"/>
<line x1="466.39" y1="754.7" x2="466.39" y2="760.5" stroke="#000" stroke-width="2.5"/>
<line x1="466.39" y1="1311.8" x2="466.39" y2="1317.6" stroke="#000" stroke-width="2.5"/>
<line x1="555.01" y1="754.7" x2="555.01" y2="760.5" stroke="#000" stroke-width="2.5"/>
<line x1="555.01" y1="1311.8" x2="555.01" y2="1317.6" stroke="#000" stroke-width="2.5"/>
<line x1="643.64" y1="754.7" x2="643.64" y2="760.5" stroke="#000" stroke-width="2.5"/>
<line x1="643.64" y1="1311.8" x2="643.64" y2="1317.6" stroke="#000" stroke-width="2.5"/>
<line x1="732.26" y1="754.7" x2="732.26" y2="760.5" stroke="#000" stroke-width="2.5"/>
<line x1="732.26" y1="1311.8" x2="732.26" y2="1317.6" stroke="#000" stroke-width="2.5"/>
<line x1="820.89" y1="754.7" x2="820.89" y2="760.5" stroke="#000" stroke-width="2.5"/>
<line x1="820.89" y1="1311.8" x2="820.89" y2="1317.6" stroke="#000" stroke-width="2.5"/>
<line x1="909.51" y1="754.7" x2="909.51" y2="760.5" stroke="#000" stroke-width="2.5"/>
<line x1="909.51" y1="1311.8" x2="909.51" y2="1317.6" stroke="#000" stroke-width="2.5"/>
<line x1="144.89999999999998" y1="754.70" x2="156.2" y2="754.70" stroke="#000" stroke-width="2.5"/>
<line x1="898.5" y1="754.70" x2="909.8" y2="754.70" stroke="#000" stroke-width="2.5"/>
<line x1="144.89999999999998" y1="813.34" x2="156.2" y2="813.34" stroke="#000" stroke-width="2.5"/>
<line x1="898.5" y1="813.34" x2="909.8" y2="813.34" stroke="#000" stroke-width="2.5"/>
<line x1="144.89999999999998" y1="871.98" x2="156.2" y2="871.98" stroke="#000" stroke-width="2.5"/>
<line x1="898.5" y1="871.98" x2="909.8" y2="871.98" stroke="#000" stroke-width="2.5"/>
<line x1="144.89999999999998" y1="930.62" x2="156.2" y2="930.62" stroke="#000" stroke-width="2.5"/>
<line x1="898.5" y1="930.62" x2="909.8" y2="930.62" stroke="#000" stroke-width="2.5"/>
<line x1="144.89999999999998" y1="989.26" x2="156.2" y2="989.26" stroke="#000" stroke-width="2.5"/>
<line x1="898.5" y1="989.26" x2="909.8" y2="989.26" stroke="#000" stroke-width="2.5"/>
<line x1="144.89999999999998" y1="1047.90" x2="156.2" y2="1047.90" stroke="#000" stroke-width="2.5"/>
<line x1="898.5" y1="1047.90" x2="909.8" y2="1047.90" stroke="#000" stroke-width="2.5"/>
<line x1="144.89999999999998" y1="1106.54" x2="156.2" y2="1106.54" stroke="#000" stroke-width="2.5"/>
<line x1="898.5" y1="1106.54" x2="909.8" y2="1106.54" stroke="#000" stroke-width="2.5"/>
<line x1="144.89999999999998" y1="1165.18" x2="156.2" y2="1165.18" stroke="#000" stroke-width="2.5"/>
<line x1="898.5" y1="1165.18" x2="909.8" y2="1165.18" stroke="#000" stroke-width="2.5"/>
<line x1="144.89999999999998" y1="1223.82" x2="156.2" y2="1223.82" stroke="#000" stroke-width="2.5"/>
<line x1="898.5" y1="1223.82" x2="909.8" y2="1223.82" stroke="#000" stroke-width="2.5"/>
<line x1="144.89999999999998" y1="1282.46" x2="156.2" y2="1282.46" stroke="#000" stroke-width="2.5"/>
<line x1="898.5" y1="1282.46" x2="909.8" y2="1282.46" stroke="#000" stroke-width="2.5"/>
<line x1="150.39999999999998" y1="784.02" x2="156.2" y2="784.02" stroke="#000" stroke-width="2.5"/>
<line x1="904.0" y1="784.02" x2="909.8" y2="784.02" stroke="#000" stroke-width="2.5"/>
<line x1="150.39999999999998" y1="842.66" x2="156.2" y2="842.66" stroke="#000" stroke-width="2.5"/>
<line x1="904.0" y1="842.66" x2="909.8" y2="842.66" stroke="#000" stroke-width="2.5"/>
<line x1="150.39999999999998" y1="901.30" x2="156.2" y2="901.30" stroke="#000" stroke-width="2.5"/>
<line x1="904.0" y1="901.30" x2="909.8" y2="901.30" stroke="#000" stroke-width="2.5"/>
<line x1="150.39999999999998" y1="959.94" x2="156.2" y2="959.94" stroke="#000" stroke-width="2.5"/>
<line x1="904.0" y1="959.94" x2="909.8" y2="959.94" stroke="#000" stroke-width="2.5"/>
<line x1="150.39999999999998" y1="1018.58" x2="156.2" y2="1018.58" stroke="#000" stroke-width="2.5"/>
<line x1="904.0" y1="1018.58" x2="909.8" y2="1018.58" stroke="#000" stroke-width="2.5"/>
<line x1="150.39999999999998" y1="1077.22" x2="156.2" y2="1077.22" stroke="#000" stroke-width="2.5"/>
<line x1="904.0" y1="1077.22" x2="909.8" y2="1077.22" stroke="#000" stroke-width="2.5"/>
<line x1="150.39999999999998" y1="1135.86" x2="156.2" y2="1135.86" stroke="#000" stroke-width="2.5"/>
<line x1="904.0" y1="1135.86" x2="909.8" y2="1135.86" stroke="#000" stroke-width="2.5"/>
<line x1="150.39999999999998" y1="1194.50" x2="156.2" y2="1194.50" stroke="#000" stroke-width="2.5"/>
<line x1="904.0" y1="1194.50" x2="909.8" y2="1194.50" stroke="#000" stroke-width="2.5"/>
<line x1="150.39999999999998" y1="1253.14" x2="156.2" y2="1253.14" stroke="#000" stroke-width="2.5"/>
<line x1="904.0" y1="1253.14" x2="909.8" y2="1253.14" stroke="#000" stroke-width="2.5"/>
<line x1="150.39999999999998" y1="1311.78" x2="156.2" y2="1311.78" stroke="#000" stroke-width="2.5"/>
<line x1="904.0" y1="1311.78" x2="909.8" y2="1311.78" stroke="#000" stroke-width="2.5"/>
<rect x="156.2" y="754.7" width="753.5999999999999" height="557.0999999999999" fill="none" stroke="#000" stroke-width="2.5"/>
<text transform="translate(155.40,736.40) scale(1.027,1)" font-family="Liberation Sans" font-size="23.5" text-anchor="middle" stroke="#000" stroke-width="0.4">-0.005</text>
<text transform="translate(155.40,1350.00) scale(1.027,1)" font-family="Liberation Sans" font-size="23.5" text-anchor="middle" stroke="#000" stroke-width="0.4">-0.005</text>
<text transform="translate(244.52,736.40) scale(1.027,1)" font-family="Liberation Sans" font-size="23.5" text-anchor="middle" stroke="#000" stroke-width="0.4">0.000</text>
<text transform="translate(244.52,1350.00) scale(1.027,1)" font-family="Liberation Sans" font-size="23.5" text-anchor="middle" stroke="#000" stroke-width="0.4">0.000</text>
<text transform="translate(333.15,736.40) scale(1.027,1)" font-family="Liberation Sans" font-size="23.5" text-anchor="middle" stroke="#000" stroke-width="0.4">0.005</text>
<text transform="translate(333.15,1350.00) scale(1.027,1)" font-family="Liberation Sans" font-size="23.5" text-anchor="middle" stroke="#000" stroke-width="0.4">0.005</text>
<text transform="translate(421.77,736.40) scale(1.027,1)" font-family="Liberation Sans" font-size="23.5" text-anchor="middle" stroke="#000" stroke-width="0.4">0.010</text>
<text transform="translate(421.77,1350.00) scale(1.027,1)" font-family="Liberation Sans" font-size="23.5" text-anchor="middle" stroke="#000" stroke-width="0.4">0.010</text>
<text transform="translate(510.40,736.40) scale(1.027,1)" font-family="Liberation Sans" font-size="23.5" text-anchor="middle" stroke="#000" stroke-width="0.4">0.015</text>
<text transform="translate(510.40,1350.00) scale(1.027,1)" font-family="Liberation Sans" font-size="23.5" text-anchor="middle" stroke="#000" stroke-width="0.4">0.015</text>
<text transform="translate(599.03,736.40) scale(1.027,1)" font-family="Liberation Sans" font-size="23.5" text-anchor="middle" stroke="#000" stroke-width="0.4">0.020</text>
<text transform="translate(599.03,1350.00) scale(1.027,1)" font-family="Liberation Sans" font-size="23.5" text-anchor="middle" stroke="#000" stroke-width="0.4">0.020</text>
<text transform="translate(687.65,736.40) scale(1.027,1)" font-family="Liberation Sans" font-size="23.5" text-anchor="middle" stroke="#000" stroke-width="0.4">0.025</text>
<text transform="translate(687.65,1350.00) scale(1.027,1)" font-family="Liberation Sans" font-size="23.5" text-anchor="middle" stroke="#000" stroke-width="0.4">0.025</text>
<text transform="translate(776.28,736.40) scale(1.027,1)" font-family="Liberation Sans" font-size="23.5" text-anchor="middle" stroke="#000" stroke-width="0.4">0.030</text>
<text transform="translate(776.28,1350.00) scale(1.027,1)" font-family="Liberation Sans" font-size="23.5" text-anchor="middle" stroke="#000" stroke-width="0.4">0.030</text>
<text transform="translate(864.90,736.40) scale(1.027,1)" font-family="Liberation Sans" font-size="23.5" text-anchor="middle" stroke="#000" stroke-width="0.4">0.035</text>
<text transform="translate(864.90,1350.00) scale(1.027,1)" font-family="Liberation Sans" font-size="23.5" text-anchor="middle" stroke="#000" stroke-width="0.4">0.035</text>
<text transform="translate(124.30,763.70) scale(1.027,1)" font-family="Liberation Sans" font-size="23.5" text-anchor="end" stroke="#000" stroke-width="0.4">2.4x10</text>
<text transform="translate(124.40,752.30) scale(0.96,1)" font-family="Liberation Sans" font-size="15.6" text-anchor="start" stroke="#000" stroke-width="0.4">-5</text>
<text transform="translate(921.60,763.70) scale(1.027,1)" font-family="Liberation Sans" font-size="23.5" text-anchor="start" stroke="#000" stroke-width="0.4">2.4x10</text>
<text transform="translate(993.90,752.30) scale(0.96,1)" font-family="Liberation Sans" font-size="15.6" text-anchor="start" stroke="#000" stroke-width="0.4">-5</text>
<text transform="translate(124.30,822.34) scale(1.027,1)" font-family="Liberation Sans" font-size="23.5" text-anchor="end" stroke="#000" stroke-width="0.4">2.2x10</text>
<text transform="translate(124.40,810.94) scale(0.96,1)" font-family="Liberation Sans" font-size="15.6" text-anchor="start" stroke="#000" stroke-width="0.4">-5</text>
<text transform="translate(921.60,822.34) scale(1.027,1)" font-family="Liberation Sans" font-size="23.5" text-anchor="start" stroke="#000" stroke-width="0.4">2.2x10</text>
<text transform="translate(993.90,810.94) scale(0.96,1)" font-family="Liberation Sans" font-size="15.6" text-anchor="start" stroke="#000" stroke-width="0.4">-5</text>
<text transform="translate(124.30,880.98) scale(1.027,1)" font-family="Liberation Sans" font-size="23.5" text-anchor="end" stroke="#000" stroke-width="0.4">2.0x10</text>
<text transform="translate(124.40,869.58) scale(0.96,1)" font-family="Liberation Sans" font-size="15.6" text-anchor="start" stroke="#000" stroke-width="0.4">-5</text>
<text transform="translate(921.60,880.98) scale(1.027,1)" font-family="Liberation Sans" font-size="23.5" text-anchor="start" stroke="#000" stroke-width="0.4">2.0x10</text>
<text transform="translate(993.90,869.58) scale(0.96,1)" font-family="Liberation Sans" font-size="15.6" text-anchor="start" stroke="#000" stroke-width="0.4">-5</text>
<text transform="translate(124.30,939.62) scale(1.027,1)" font-family="Liberation Sans" font-size="23.5" text-anchor="end" stroke="#000" stroke-width="0.4">1.8x10</text>
<text transform="translate(124.40,928.22) scale(0.96,1)" font-family="Liberation Sans" font-size="15.6" text-anchor="start" stroke="#000" stroke-width="0.4">-5</text>
<text transform="translate(921.60,939.62) scale(1.027,1)" font-family="Liberation Sans" font-size="23.5" text-anchor="start" stroke="#000" stroke-width="0.4">1.8x10</text>
<text transform="translate(993.90,928.22) scale(0.96,1)" font-family="Liberation Sans" font-size="15.6" text-anchor="start" stroke="#000" stroke-width="0.4">-5</text>
<text transform="translate(124.30,998.26) scale(1.027,1)" font-family="Liberation Sans" font-size="23.5" text-anchor="end" stroke="#000" stroke-width="0.4">1.6x10</text>
<text transform="translate(124.40,986.86) scale(0.96,1)" font-family="Liberation Sans" font-size="15.6" text-anchor="start" stroke="#000" stroke-width="0.4">-5</text>
<text transform="translate(921.60,998.26) scale(1.027,1)" font-family="Liberation Sans" font-size="23.5" text-anchor="start" stroke="#000" stroke-width="0.4">1.6x10</text>
<text transform="translate(993.90,986.86) scale(0.96,1)" font-family="Liberation Sans" font-size="15.6" text-anchor="start" stroke="#000" stroke-width="0.4">-5</text>
<text transform="translate(124.30,1056.90) scale(1.027,1)" font-family="Liberation Sans" font-size="23.5" text-anchor="end" stroke="#000" stroke-width="0.4">1.4x10</text>
<text transform="translate(124.40,1045.50) scale(0.96,1)" font-family="Liberation Sans" font-size="15.6" text-anchor="start" stroke="#000" stroke-width="0.4">-5</text>
<text transform="translate(921.60,1056.90) scale(1.027,1)" font-family="Liberation Sans" font-size="23.5" text-anchor="start" stroke="#000" stroke-width="0.4">1.4x10</text>
<text transform="translate(993.90,1045.50) scale(0.96,1)" font-family="Liberation Sans" font-size="15.6" text-anchor="start" stroke="#000" stroke-width="0.4">-5</text>
<text transform="translate(124.30,1115.54) scale(1.027,1)" font-family="Liberation Sans" font-size="23.5" text-anchor="end" stroke="#000" stroke-width="0.4">1.2x10</text>
<text transform="translate(124.40,1104.14) scale(0.96,1)" font-family="Liberation Sans" font-size="15.6" text-anchor="start" stroke="#000" stroke-width="0.4">-5</text>
<text transform="translate(921.60,1115.54) scale(1.027,1)" font-family="Liberation Sans" font-size="23.5" text-anchor="start" stroke="#000" stroke-width="0.4">1.2x10</text>
<text transform="translate(993.90,1104.14) scale(0.96,1)" font-family="Liberation Sans" font-size="15.6" text-anchor="start" stroke="#000" stroke-width="0.4">-5</text>
<text transform="translate(124.30,1174.18) scale(1.027,1)" font-family="Liberation Sans" font-size="23.5" text-anchor="end" stroke="#000" stroke-width="0.4">1.0x10</text>
<text transform="translate(124.40,1162.78) scale(0.96,1)" font-family="Liberation Sans" font-size="15.6" text-anchor="start" stroke="#000" stroke-width="0.4">-5</text>
<text transform="translate(921.60,1174.18) scale(1.027,1)" font-family="Liberation Sans" font-size="23.5" text-anchor="start" stroke="#000" stroke-width="0.4">1.0x10</text>
<text transform="translate(993.90,1162.78) scale(0.96,1)" font-family="Liberation Sans" font-size="15.6" text-anchor="start" stroke="#000" stroke-width="0.4">-5</text>
<text transform="translate(124.30,1232.82) scale(1.027,1)" font-family="Liberation Sans" font-size="23.5" text-anchor="end" stroke="#000" stroke-width="0.4">8.0x10</text>
<text transform="translate(124.40,1221.42) scale(0.96,1)" font-family="Liberation Sans" font-size="15.6" text-anchor="start" stroke="#000" stroke-width="0.4">-6</text>
<text transform="translate(921.60,1232.82) scale(1.027,1)" font-family="Liberation Sans" font-size="23.5" text-anchor="start" stroke="#000" stroke-width="0.4">8.0x10</text>
<text transform="translate(993.90,1221.42) scale(0.96,1)" font-family="Liberation Sans" font-size="15.6" text-anchor="start" stroke="#000" stroke-width="0.4">-6</text>
<text transform="translate(124.30,1291.46) scale(1.027,1)" font-family="Liberation Sans" font-size="23.5" text-anchor="end" stroke="#000" stroke-width="0.4">6.0x10</text>
<text transform="translate(124.40,1280.06) scale(0.96,1)" font-family="Liberation Sans" font-size="15.6" text-anchor="start" stroke="#000" stroke-width="0.4">-6</text>
<text transform="translate(921.60,1291.46) scale(1.027,1)" font-family="Liberation Sans" font-size="23.5" text-anchor="start" stroke="#000" stroke-width="0.4">6.0x10</text>
<text transform="translate(993.90,1280.06) scale(0.96,1)" font-family="Liberation Sans" font-size="15.6" text-anchor="start" stroke="#000" stroke-width="0.4">-6</text>
<line x1="688.7" y1="788.9" x2="754.9" y2="788.9" stroke="#0000ff" stroke-width="3.5"/>
<line x1="688.7" y1="825.3" x2="754.9" y2="825.3" stroke="#ff0000" stroke-width="3.5"/>
<circle cx="721.30" cy="788.90" r="6.5" fill="#fff" stroke="#0000ff" stroke-width="1.4"/>
<rect x="715.70" y="819.50" width="11.6" height="11.6" fill="#fff" stroke="#ff0000" stroke-width="1.4"/>
<text transform="translate(763.40,799.00) scale(0.982,1)" font-family="Liberation Sans" font-size="29.66" text-anchor="start" stroke="#000" stroke-width="0.2">H(4pe-1)</text>
<text transform="translate(763.40,835.60) scale(0.982,1)" font-family="Liberation Sans" font-size="29.66" text-anchor="start" stroke="#000" stroke-width="0.2">H(4pe-2)</text>
<text transform="translate(851.30,1285.20) scale(1.03,1)" font-family="Liberation Sans" font-size="48" text-anchor="middle" >(b)</text>
<text transform="translate(39.6,1033.4) scale(1.02,0.982) rotate(-90)" font-family="Liberation Sans" font-size="29.66" text-anchor="middle"><tspan font-family="Liberation Serif" font-size="32">Γ</tspan>/2(a.u.)</text>
<path transform="translate(526.96,1385.08) scale(0.03418) translate(-288,-262)" d="M288,262 L352,262 L352,545 C352,590 385,612 430,605 C480,598 520,575 548,545 L548,262 L612,262 L612,560 C612,600 640,612 662,598 C675,590 685,578 692,568 L702,588 C682,640 640,668 605,662 C570,656 550,630 546,600 C520,630 470,660 410,662 C370,664 340,655 327,642 L331,690 C341,730 349,760 346,785 C341,815 320,828 302,826 C275,824 258,800 262,770 C268,730 285,680 288,640 Z" fill="#000"/>
</svg>
</body></html>
